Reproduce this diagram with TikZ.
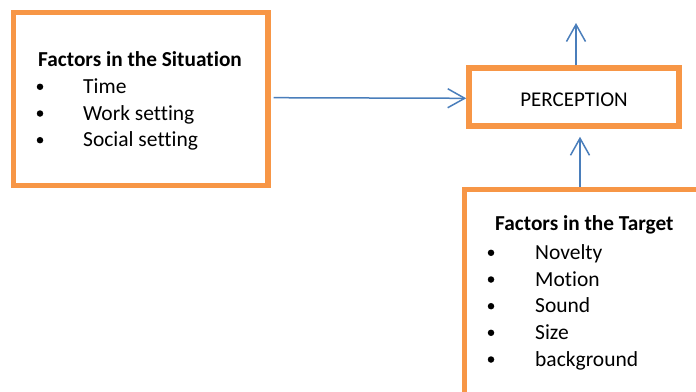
\documentclass[tikz,border=0pt]{standalone}
\usepackage{fontspec}
\setmainfont{Carlito}[Ligatures=NoCommon]
\usetikzlibrary{arrows.meta}
\definecolor{boxorange}{HTML}{F79646}
\definecolor{arrowblue}{HTML}{4A7EBB}
\begin{document}
\begin{tikzpicture}[x=1pt,y=-1pt,
  frame/.style={draw=boxorange, line width=5.5pt, fill=white, inner sep=0pt},
  flow/.style={draw=arrowblue, line width=1.5pt, -{Straight Barb[length=17pt,width=19pt,line width=1.5pt]}},
  heading/.style={font=\bfseries\fontsize{21.3}{25}\selectfont, anchor=base west, inner sep=0pt},
  entry/.style={font=\fontsize{21.5}{25}\selectfont, anchor=base west, inner sep=0pt},
  dot/.style={circle, fill=black, inner sep=0pt, minimum size=6.5pt}]
\clip (0,0) rectangle (696,391);
\fill[white] (0,0) rectangle (696,391);

% boxes
\node[frame, minimum width=254.5pt, minimum height=173pt] (sit) at (140.5,99) {};
\node[frame, minimum width=210pt, minimum height=58pt] (perc) at (574,97) {};
\node[frame, minimum width=260pt, minimum height=240pt] (tgt) at (594.5,309.5) {};

% box texts
\node[font=\fontsize{21}{25}\selectfont, anchor=base, inner sep=0pt] (perctext) at (574,106) {PERCEPTION};

\node[heading] (sithead) at (38,66) {Factors in the Situation};
\foreach \txt/\yb [count=\i] in {Time/93.3, Work setting/120, Social setting/146.7}{
  \node[dot] (sitdot\i) at (40,\yb-6.5) {};
  \node[entry] (sititem\i) at (83,\yb) {\txt};
}

\node[heading] (tgthead) at (495,230) {Factors in the Target};
\foreach \txt/\yb [count=\i] in {Novelty/259.3, Motion/286, Sound/312.7, Size/339.3, background/366}{
  \node[dot] (tgtdot\i) at (491,\yb-6.5) {};
  \node[entry] (tgtitem\i) at (535,\yb) {\txt};
}

% connectors
\coordinate (outtip) at (576,23);
\draw[flow] ([xshift=3pt,yshift=1.3pt]sit.east) -- ([yshift=-1.3pt]perc.west);
\draw[flow] ([xshift=2pt]perc.north) -- (outtip);
\draw[flow] (tgt.north -| 580,0) -- ([xshift=6pt,yshift=-8pt]perc.south);
\end{tikzpicture}
\end{document}
